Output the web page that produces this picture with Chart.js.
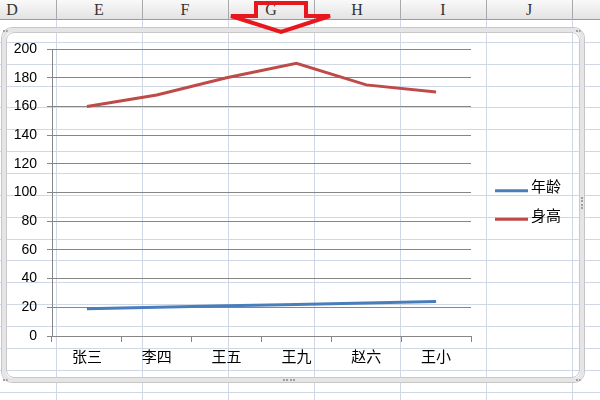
<!DOCTYPE html>
<html>
<head>
<meta charset="utf-8">
<script src="https://cdn.jsdelivr.net/npm/chart.js@4"></script>
<style>
  html, body { margin: 0; padding: 0; background: #fff; }
  #sheet { position: relative; width: 600px; height: 400px; overflow: hidden; background: #fff; }
  .vline { position: absolute; top: 20px; bottom: 0; width: 1px; background: #d0d7e5; }
  .hline { position: absolute; left: 0; right: 0; height: 1px; background: #d0d7e5; }
  #header { position: absolute; left: 0; top: 0; width: 600px; height: 20px;
    background: linear-gradient(#f9f9f9, #e3e3e3); border-bottom: 1px solid #9c9c9c; box-sizing: border-box; }
  .hsep { position: absolute; top: 0; height: 20px; width: 1px; background: #a9a9a9; }
  .hlabel { position: absolute; top: 1px; width: 86px; text-align: center;
    font: 16px "Liberation Serif", "DejaVu Serif", serif; color: #333; }
  #frame { position: absolute; left: 1px; top: 27px; width: 584px; height: 356px; box-sizing: border-box;
    border: 1px solid #c6c6c6; border-radius: 11px; }
  #frame2 { position: absolute; left: 0; top: 0; right: 0; bottom: 0;
    border: 4px solid #e5e5e5; border-radius: 10px; }
  #frame3 { position: absolute; left: 4px; top: 4px; right: 4px; bottom: 4px;
    border: 1px solid #c9c9c9; border-radius: 8px; }
  .dots { position: absolute; border-top: 2px dotted #a0a0a0; height: 0; }
  .vdots { position: absolute; border-left: 2px dotted #a0a0a0; width: 0; }
  canvas { position: absolute; left: 0; top: 0; }
  #arrow { position: absolute; left: 0; top: 0; }
</style>
</head>
<body>
<div id="sheet">
  <div id="grid"></div>
  <div id="header"></div>
  <div id="frame"><div id="frame2"></div><div id="frame3"></div></div>
  <div class="dots" style="left:283px; top:379px; width:12px;"></div>
  <div class="vdots" style="left:581px; top:197px; height:12px;"></div>
  <div class="dots" style="left:3px; top:30px; width:5px;"></div>
  <div class="dots" style="left:576px; top:30px; width:5px;"></div>
  <div class="dots" style="left:3px; top:379px; width:5px;"></div>
  <div class="dots" style="left:576px; top:379px; width:5px;"></div>
  <canvas id="myChart" width="600" height="400"></canvas>
  <svg id="arrow" width="600" height="40">
    <polygon points="256,3 306,3 306,16 330,16 281,32 231,16 256,16"
      fill="none" stroke="#e8171d" stroke-width="4" stroke-linejoin="miter"/>
  </svg>
</div>
<script>
const names = ["张三", "李四", "王五", "王九", "赵六", "王小"];
const ages = [19, 20, 21, 22, 23, 24];
const heights = [160, 168, 180, 190, 175, 170];
const seriesLabels = ["年龄", "身高"];
const seriesColors = ["#4a7ebb", "#be4b48"];
const columns = ["D", "E", "F", "G", "H", "I", "J"];

// spreadsheet background
const grid = document.getElementById("grid");
const header = document.getElementById("header");
const colW = 86.1, colStart = 55.5 - 86.1;
for (let i = 0; i <= columns.length; i++) {
    const x = Math.round(colStart + i * colW);
    const v = document.createElement("div");
    v.className = "vline";
    v.style.left = x + "px";
    grid.appendChild(v);
    const s = document.createElement("div");
    s.className = "hsep";
    s.style.left = x + "px";
    header.appendChild(s);
    if (i < columns.length) {
        const l = document.createElement("div");
        l.className = "hlabel";
        l.style.left = x + "px";
        l.textContent = columns[i];
        header.appendChild(l);
    }
}
for (let r = 1; r < 18; r++) {
    const h = document.createElement("div");
    h.className = "hline";
    h.style.top = Math.round(20 + r * 21.86) + "px";
    grid.appendChild(h);
}

const sideLegend = {
    id: "sideLegend",
    afterDraw(chart) {
        const ctx = chart.ctx;
        const area = chart.chartArea;
        const x0 = area.right + 24;
        const yc = (area.top + area.bottom) / 2 + 12.5;
        chart.data.datasets.forEach((ds, i) => {
            const y = yc + (i - 0.5) * 28.6;
            ctx.save();
            ctx.strokeStyle = ds.borderColor;
            ctx.lineWidth = 3;
            ctx.beginPath();
            ctx.moveTo(x0, y);
            ctx.lineTo(x0 + 33, y);
            ctx.stroke();
            ctx.fillStyle = "#000";
            ctx.font = '15px "Noto Sans CJK SC"';
            ctx.textBaseline = "middle";
            ctx.fillText(ds.label, x0 + 36, y - 4);
            ctx.restore();
        });
    },
};

function buildChart() {
    const config = {
        type: "line",
        data: {
            labels: names,
            datasets: [
                { label: seriesLabels[0], data: ages, borderColor: seriesColors[0] },
                { label: seriesLabels[1], data: heights, borderColor: seriesColors[1] },
            ].map((d) => Object.assign(d, { borderWidth: 3, pointRadius: 0, tension: 0, fill: false })),
        },
        options: {
            responsive: false,
            animation: false,
            layout: { padding: { left: 0, top: 49, right: 129, bottom: 20 } },
            plugins: { legend: { display: false }, tooltip: { enabled: false } },
            scales: {
                x: {
                    offset: true,
                    grid: { offset: true, drawOnChartArea: false, tickLength: 6, tickColor: "#868686" },
                    border: { color: "#868686" },
                    ticks: { color: "#000", padding: 5, font: { family: '"Noto Sans CJK SC"', size: 15 } },
                    afterFit: (scale) => { scale.height = 44; },
                },
                y: {
                    min: 0,
                    max: 200,
                    grid: { color: "#868686", tickLength: 5, tickColor: "#868686" },
                    border: { color: "#868686" },
                    ticks: { stepSize: 20, color: "#000", padding: 10, font: { family: '"Liberation Sans", Arial', size: 14 } },
                    afterFit: (scale) => { scale.width = 52; },
                },
            },
        },
        plugins: [sideLegend],
    };
    const ctx = document.getElementById("myChart").getContext("2d");
    return new Chart(ctx, config);
}

buildChart();
</script>
</body>
</html>
